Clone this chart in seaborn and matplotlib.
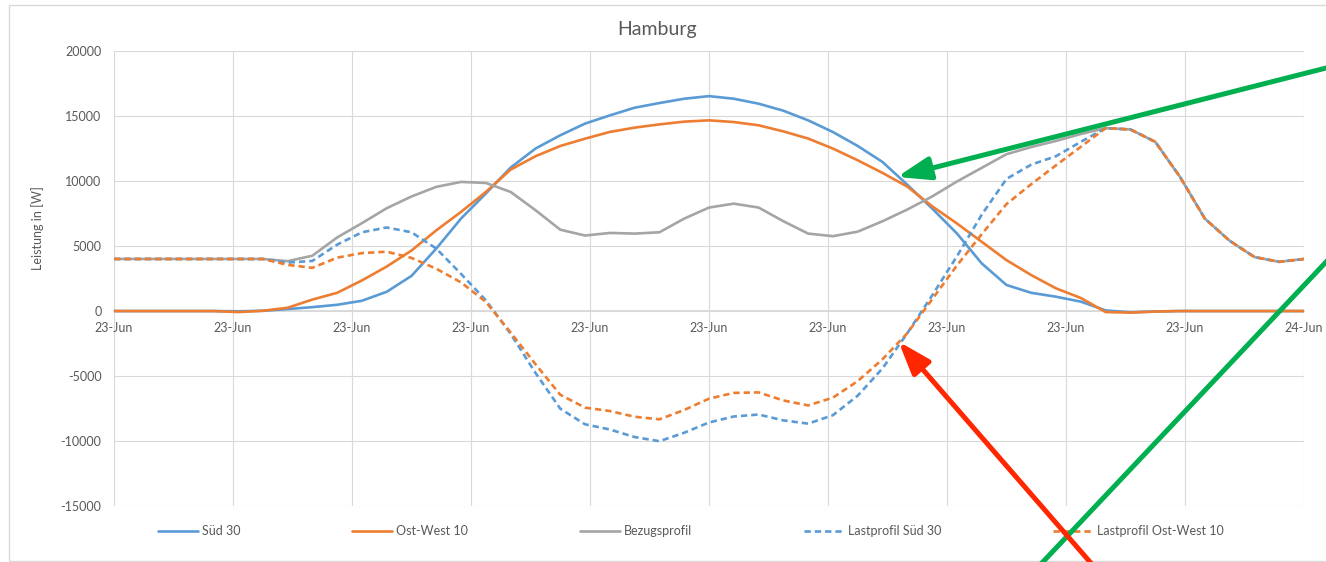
"""
Hamburg - Leistungsprofile (Excel-Nachbau mit seaborn)
"""
import matplotlib
matplotlib.use("Agg")
import matplotlib.pyplot as plt
import numpy as np
import seaborn as sns
from matplotlib.patches import Rectangle, FancyArrowPatch
from matplotlib.ticker import FuncFormatter

# halbstündliches Raster über den Tag (Stunden)
stunden = np.arange(0, 24.5, 0.5)

sued_30 = [0, 0, 0, 0, 0, -20, 20, 150, 300, 480, 790, 1480, 2700, 4800, 7110, 9030,
           11020, 12480, 13500, 14400, 15030, 15620, 15980, 16310, 16510, 16310, 15930,
           15390, 14650, 13750, 12680, 11450, 9700, 7880, 5960, 3660, 2000, 1400, 1100,
           720, 50, -100, -30, 0, 0, 0, 0, 0, 0]
ost_west_10 = [0, 0, 0, 0, 0, -80, 20, 250, 880, 1400, 2350, 3420, 4650, 6200, 7620, 9150,
               10870, 11890, 12680, 13240, 13760, 14090, 14340, 14550, 14650, 14520, 14270,
               13800, 13250, 12480, 11580, 10610, 9560, 8050, 6730, 5320, 3910, 2760, 1740,
               1000, -80, -120, -40, 0, 0, 0, 0, 0, 0]
bezugsprofil = [4000, 4000, 4000, 4000, 4000, 4000, 4000, 3830, 4250, 5650, 6750, 7900, 8800,
                9540, 9920, 9840, 9150, 7750, 6250, 5800, 6000, 5950, 6050, 7100, 7950, 8250,
                7950, 6900, 5950, 5750, 6100, 6900, 7800, 8800, 9950, 11000, 12050, 12600,
                13070, 13600, 14050, 13950, 13000, 10300, 7100, 5400, 4150, 3780, 4000]
lastprofil_sued_30 = [4000, 4000, 4000, 4000, 4000, 4000, 4000, 3720, 3850, 5100, 6050, 6420,
                      6050, 4800, 2850, 820, -1750, -4750, -7500, -8700, -9100, -9680, -10000,
                      -9350, -8560, -8100, -7950, -8400, -8650, -8000, -6500, -4400, -1700,
                      1200, 4200, 7400, 10150, 11250, 11900, 13000, 14050, 13950, 13000, 10300,
                      7100, 5400, 4150, 3780, 4000]
lastprofil_ost_west_10 = [4000, 4000, 4000, 4000, 4000, 4000, 4000, 3550, 3320, 4100, 4450,
                          4560, 4080, 3250, 2200, 700, -1650, -4080, -6430, -7420, -7680,
                          -8120, -8320, -7600, -6730, -6290, -6250, -6870, -7250, -6650,
                          -5380, -3700, -1700, 900, 3500, 5900, 8220, 9750, 11200, 12620,
                          14050, 13950, 13000, 10300, 7100, 5400, 4150, 3780, 4000]

tick_pos = np.linspace(0, 24, 11)
tick_labels = ["23-Jun"] * 10 + ["24-Jun"]

BLAU = "#5B9BD5"
ORANGE = "#ED7D31"
GRAU = "#A5A5A5"
TEXT = "#595959"
RASTER = "#D9D9D9"

sns.set_style("white")
plt.rcParams["font.family"] = ["Lato", "DejaVu Sans"]
plt.rcParams["axes.unicode_minus"] = False

W, H = 1326, 562
fig = plt.figure(figsize=(W / 100, H / 100), dpi=100)
ax = fig.add_axes([114 / W, (H - 506.3) / H, (1304 - 114) / W, (506.3 - 50.7) / H])

reihen = [
    ("Süd 30", sued_30, BLAU, False),
    ("Ost-West 10", ost_west_10, ORANGE, False),
    ("Bezugsprofil", bezugsprofil, GRAU, False),
    ("Lastprofil Süd 30", lastprofil_sued_30, BLAU, True),
    ("Lastprofil Ost-West 10", lastprofil_ost_west_10, ORANGE, True),
]
for name, werte, farbe, gestrichelt in reihen:
    sns.lineplot(x=stunden, y=werte, ax=ax, color=farbe, linewidth=1.9, label=name)
    linie = ax.lines[-1]
    linie.set_solid_capstyle("round")
    linie.set_solid_joinstyle("round")
    linie.set_dash_joinstyle("round")
    if gestrichelt:
        linie.set_dashes([2.4, 1.5])

ax.set_xlim(0, 24)
ax.set_ylim(-15000, 20000)
ax.set_xticks(tick_pos)
ax.set_xticklabels(tick_labels)
ax.set_yticks(range(-15000, 20001, 5000))
ax.yaxis.set_major_formatter(FuncFormatter(lambda v, p: f"{int(v)}"))
ax.grid(True, color=RASTER, linewidth=0.8)
ax.set_axisbelow(True)
for s in ["top", "right", "left"]:
    ax.spines[s].set_visible(False)
ax.spines["bottom"].set_position(("data", 0))
ax.spines["bottom"].set_color(RASTER)
ax.spines["bottom"].set_linewidth(1.3)
ax.spines["bottom"].set_zorder(0.5)
ax.tick_params(axis="x", length=0, pad=8, labelsize=9, labelcolor=TEXT)
ax.tick_params(axis="y", length=0, pad=9, labelsize=9, labelcolor=TEXT)
ax.set_xlabel("")
ax.set_ylabel("")

ax.legend(loc="center left", bbox_to_anchor=(158 / W, (H - 531) / H),
          bbox_transform=fig.transFigure, ncol=5, frameon=False, fontsize=9,
          labelcolor=TEXT, handlelength=3.2, handletextpad=0.35, columnspacing=8.9,
          borderpad=0, borderaxespad=0)

fig.text(656.7 / W, 1 - 29 / H, "Hamburg", ha="center", va="center",
         fontsize=14, color=TEXT)
fig.text(38 / W, 1 - 228 / H, "Leistung in [W]", ha="center", va="center",
         rotation=90, fontsize=9, color=TEXT)

# Diagrammrahmen
fig.add_artist(Rectangle((9 / W, 1 / H), 1.0, (H - 6) / H, transform=fig.transFigure,
                         fill=False, edgecolor=RASTER, linewidth=1.0))


def _px(x, y):
    return (x / W, 1 - y / H)


# Markierungen
fig.add_artist(FancyArrowPatch(_px(1332, 66.5), _px(897, 177), transform=fig.transFigure,
                               arrowstyle="-|>,head_length=20,head_width=7",
                               color="#00B050", linewidth=3.6, shrinkA=0, shrinkB=0,
                               capstyle="butt"))
fig.add_artist(FancyArrowPatch(_px(1330, 257.8), _px(1040, 565), transform=fig.transFigure,
                               arrowstyle="-", color="#00B050", linewidth=3.6,
                               shrinkA=0, shrinkB=0))
fig.add_artist(FancyArrowPatch(_px(1092.6, 565), _px(898.5, 341.5), transform=fig.transFigure,
                               arrowstyle="-|>,head_length=20,head_width=7",
                               color="#FF2600", linewidth=3.6, shrinkA=0, shrinkB=0,
                               capstyle="butt"))

fig.savefig("out.png", dpi=100, facecolor="white")
plt.close(fig)
